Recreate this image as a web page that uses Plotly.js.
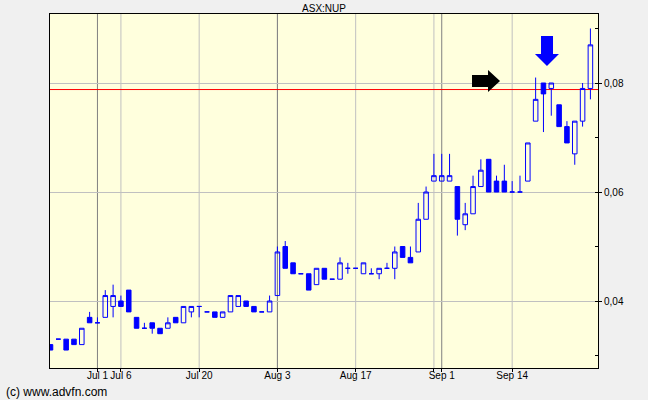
<!DOCTYPE html>
<html><head><meta charset="utf-8">
<script src="https://cdn.plot.ly/plotly-3.0.1.min.js"></script>
<style>html,body{margin:0;padding:0;background:#F0F0F0;}#chart{width:648px;height:400px;}</style>
</head><body><div id="chart"></div>
<script>
// ---- data (ASX:NUP daily) ----
const dates = ['2015-06-23','2015-06-24','2015-06-25','2015-06-26','2015-06-29','2015-06-30',
 '2015-07-01','2015-07-02','2015-07-03','2015-07-06','2015-07-07','2015-07-08','2015-07-09','2015-07-10',
 '2015-07-13','2015-07-14','2015-07-15','2015-07-16','2015-07-17','2015-07-20','2015-07-21','2015-07-22',
 '2015-07-23','2015-07-24','2015-07-27','2015-07-28','2015-07-29','2015-07-30','2015-07-31',
 '2015-08-03','2015-08-04','2015-08-05','2015-08-06','2015-08-07','2015-08-10','2015-08-11','2015-08-12',
 '2015-08-13','2015-08-14','2015-08-17','2015-08-18','2015-08-19','2015-08-20','2015-08-21','2015-08-24',
 '2015-08-25','2015-08-26','2015-08-27','2015-08-28','2015-08-31',
 '2015-09-01','2015-09-02','2015-09-03','2015-09-04','2015-09-07','2015-09-08','2015-09-09','2015-09-10',
 '2015-09-11','2015-09-14','2015-09-15','2015-09-16','2015-09-17','2015-09-18','2015-09-21','2015-09-22',
 '2015-09-23','2015-09-24','2015-09-25','2015-09-28'];
const openP  = [.032,.033,.033,.033,.032,.037,.036,.037,.039,.040,.042,.037,.035,.036,.035,.035,.037,.036,.038,.039,
 .038,.038,.037,.038,.039,.040,.039,.038,.038,.041,.050,.047,.045,.045,.043,.046,.044,.044,.046,.046,
 .045,.045,.045,.046,.046,.050,.048,.049,.055,.062,.062,.062,.061,.054,.056,.061,.066,.062,.062,.060,
 .060,.062,.073,.080,.079,.076,.072,.067,.073,.079];
const highP  = [.032,.033,.033,.033,.035,.038,.037,.042,.043,.041,.042,.037,.036,.036,.035,.037,.037,.039,.039,.039,
 .038,.038,.038,.041,.041,.040,.039,.038,.041,.050,.051,.047,.045,.045,.046,.046,.044,.048,.047,.046,
 .047,.046,.046,.047,.050,.050,.050,.058,.061,.067,.067,.067,.061,.058,.063,.066,.066,.063,.065,.062,
 .063,.069,.081,.080,.080,.076,.073,.073,.080,.090];
const lowP   = [.031,.033,.031,.032,.032,.036,.036,.037,.037,.039,.038,.035,.035,.034,.034,.035,.036,.036,.037,.037,
 .038,.037,.037,.038,.039,.039,.038,.038,.038,.041,.046,.045,.045,.042,.043,.044,.044,.044,.045,.046,
 .045,.045,.044,.046,.044,.048,.047,.049,.055,.062,.062,.062,.052,.053,.056,.061,.060,.060,.060,.060,
 .060,.062,.073,.071,.074,.072,.069,.065,.072,.077];
const closeP = [.031,.033,.031,.032,.035,.036,.036,.041,.041,.039,.038,.035,.035,.035,.034,.036,.036,.039,.039,.039,
 .038,.037,.038,.041,.041,.039,.038,.038,.040,.049,.046,.045,.045,.042,.046,.044,.044,.047,.046,.046,
 .047,.045,.046,.046,.049,.048,.047,.055,.060,.063,.063,.063,.055,.056,.061,.064,.060,.060,.060,.060,
 .060,.069,.077,.078,.080,.072,.069,.073,.079,.087];
const refLine = 0.0788;
const monthLines = ['2015-07-01','2015-08-03','2015-09-01'];
const weekLines  = ['2015-07-06','2015-07-20','2015-08-03','2015-08-17','2015-08-31','2015-09-14'];
const tickDates  = ['2015-07-01','2015-07-06','2015-07-20','2015-08-03','2015-08-17','2015-08-31','2015-09-01','2015-09-14'];
const tickLabels = ['Jul 1','Jul 6','Jul 20','Aug 3','Aug 17','','Sep 1','Sep 14'];
const yTicks = [0.04,0.06,0.08];
const yTickLabels = ['0,04','0,06','0,08'];

// ---- layout helpers (pixel -> paper for decorations) ----
const L=50,R=598,T=14,B=368;
const PX = x => (x-L)/(R-L), PY = y => (B-y)/(B-T);
function path(pts){return 'M'+pts.map(p=>PX(p[0]).toFixed(4)+','+PY(p[1]).toFixed(4)).join(' L')+' Z';}

const shapes = [];
weekLines.forEach(d=>shapes.push({type:'line',xref:'x',yref:'paper',x0:dates.indexOf(d),x1:dates.indexOf(d),y0:0,y1:1,line:{color:'#C0C0C0',width:1},layer:'below'}));
monthLines.forEach(d=>shapes.push({type:'line',xref:'x',yref:'paper',x0:dates.indexOf(d),x1:dates.indexOf(d),y0:0,y1:1,line:{color:'#808080',width:1},layer:'below'}));
shapes.push({type:'line',xref:'paper',yref:'y',x0:0,x1:1,y0:refLine,y1:refLine,line:{color:'#FF0000',width:1},layer:'between'});
// black right arrow
shapes.push({type:'path',xref:'paper',yref:'paper',path:path([[472,75],[488,75],[488,70],[500,81],[488,92],[488,87],[472,87]]),fillcolor:'#000000',line:{width:0}});
// blue down arrow
shapes.push({type:'path',xref:'paper',yref:'paper',path:path([[541,36],[553,36],[553,54],[559,54],[547,66],[535,54],[541,54]]),fillcolor:'#0000FF',line:{width:0}});

const trace = {
  type:'candlestick', x:dates, open:openP, high:highP, low:lowP, close:closeP,
  increasing:{line:{color:'#0000FF',width:1},fillcolor:'rgba(0,0,0,0)'},
  decreasing:{line:{color:'#0000FF',width:1},fillcolor:'#0000FF'},
  whiskerwidth:0, hoverinfo:'none', showlegend:false
};

const yRange=[0.04-(B-301)/5450, 0.08+(83-T)/5450];
const fam = '"Liberation Sans", Arial, sans-serif';
const font = {family:fam, size:10, color:'#000'};
const layout = {
  width:648, height:400, margin:{l:L,r:648-R,t:T,b:400-B,pad:0},
  paper_bgcolor:'#F0F0F0', plot_bgcolor:'#FFFFDD', font:font, showlegend:false,
  boxgap:0.42, boxgroupgap:0,
  title:{text:'ASX:NUP', font:{family:fam,size:10,color:'#000'}, x:0.5, xref:'paper', xanchor:'center', y:1-8/400, yref:'container', yanchor:'middle'},
  xaxis:{type:'category', range:[-0.064,69.97], tickmode:'array', tickvals:tickDates, ticktext:tickLabels, tickangle:0,
    ticks:'outside', ticklen:3, tickcolor:'#000', showgrid:false, zeroline:false, showline:true, mirror:true,
    linecolor:'#000', linewidth:1, rangeslider:{visible:false}, tickfont:font, ticklabelstandoff:-5, fixedrange:true},
  yaxis:{range:yRange, side:'right', tickmode:'array', tickvals:yTicks, ticktext:yTickLabels,
    ticks:'outside', ticklen:3, tickcolor:'#000', showgrid:true, gridcolor:'#C0C0C0', gridwidth:1,
    zeroline:false, showline:true, mirror:true, linecolor:'#000', linewidth:1, tickfont:font,
    minor:{ticks:'inside', tickmode:'linear', tick0:0, dtick:0.01, ticklen:3, tickcolor:'#000', showgrid:false}},
  yaxis2:{range:yRange, overlaying:'y', side:'left', tickmode:'linear', tick0:0, dtick:0.01, ticks:'inside',
    ticklen:3, tickcolor:'#000', showticklabels:false, showgrid:false, zeroline:false, showline:false},
  shapes:shapes,
  annotations:[{text:'(c) www.advfn.com', xref:'paper', yref:'paper', x:PX(4), y:PY(392), xanchor:'left', yanchor:'middle',
    showarrow:false, font:{family:fam,size:12,color:'#000'}}]
};
Plotly.newPlot('chart',[trace],layout,{staticPlot:true,displayModeBar:false});
</script></body></html>
